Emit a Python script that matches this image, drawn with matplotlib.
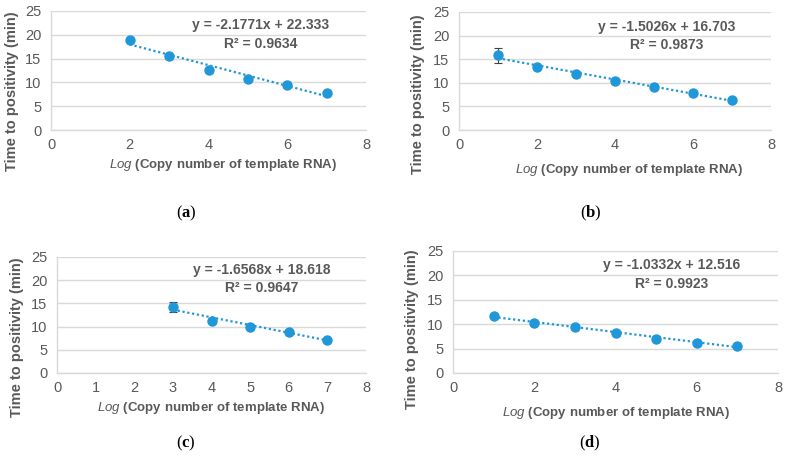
import matplotlib
matplotlib.use("Agg")
import matplotlib.pyplot as plt
import numpy as np

plt.rcParams['mathtext.fontset'] = 'custom'
plt.rcParams['mathtext.rm'] = 'Liberation Serif'
plt.rcParams['mathtext.bf'] = 'Liberation Serif:bold'
plt.rcParams['mathtext.it'] = 'Liberation Sans:italic'
plt.rcParams['font.family'] = ['Liberation Sans', 'DejaVu Sans']

# ---- data ----
x_a = [2, 3, 4, 5, 6, 7]
y_a = [19.0, 15.5, 12.7, 10.8, 9.5, 7.7]
e_a = [0.3, 0.2, 0.3, 0.2, 0.2, 0.2]
x_b = [1, 2, 3, 4, 5, 6, 7]
y_b = [15.8, 13.3, 11.9, 10.4, 9.2, 7.8, 6.3]
e_b = [1.5, 0.2, 0.2, 0.2, 0.2, 0.2, 0.2]
x_c = [3, 4, 5, 6, 7]
y_c = [14.2, 11.2, 10.0, 8.9, 7.1]
e_c = [1.1, 0.2, 0.2, 0.2, 0.2]
x_d = [1, 2, 3, 4, 5, 6, 7]
y_d = [11.6, 10.3, 9.5, 8.2, 7.0, 6.2, 5.5]
e_d = [0.2, 0.2, 0.2, 0.2, 0.2, 0.2, 0.2]

slopes = [-2.1771, -1.5026, -1.6568, -1.0332]
intercepts = [22.333, 16.703, 18.618, 12.516]
r2_values = [0.9634, 0.9873, 0.9647, 0.9923]
panel_labels = ['a', 'b', 'c', 'd']
x_ticks_sets = [[0, 2, 4, 6, 8], [0, 2, 4, 6, 8], [0, 1, 2, 3, 4, 5, 6, 7, 8], [0, 2, 4, 6, 8]]
y_ticks = [0, 5, 10, 15, 20, 25]
x_title = r'$\it{Log}$ (Copy number of template RNA)'
y_title = 'Time to positivity (min)'

xs = [x_a, x_b, x_c, x_d]
ys = [y_a, y_b, y_c, y_d]
es = [e_a, e_b, e_c, e_d]

W, H = 787, 463
# axes boxes in pixels: left, right, top, bottom
boxes = [(51, 366, 11, 130), (459, 771, 12, 130), (57, 366, 257, 373), (453, 778, 251, 373)]
eq_pos = [(5.33, 22.0, 18.0), (5.33, 21.8, 18.0), (5.31, 22.2, 18.3), (5.37, 22.1, 18.2)]
cap_pos = [(186, 213), (591, 213), (186, 443), (590, 443)]
xlab_pos = [(223, 165), (629, 170), (211, 408), (616, 413)]
ylab_pos = [(12, 91), (418, 94), (17, 337), (412, 329)]

blue = '#1F97D8'
gray = '#595959'
grid = '#D9D9D9'

fig = plt.figure(figsize=(W / 100, H / 100), dpi=100)
for i in range(4):
    l, r, t, b = boxes[i]
    ax = fig.add_axes([l / W, 1 - b / H, (r - l) / W, (b - t) / H])
    x = np.array(xs[i]); y = np.array(ys[i])
    ax.errorbar(x, y, yerr=es[i], fmt='o', color=blue, ms=6.5, ecolor='#404040',
                elinewidth=0.8, capsize=3, capthick=0.8, zorder=3)
    xl = np.array([x.min(), x.max()])
    ax.plot(xl, slopes[i] * xl + intercepts[i], linestyle=(0, (1, 1.2)), color=blue, lw=1.6, zorder=2)
    ax.set_xlim(0, 8)
    ax.set_ylim(0, 25)
    ax.set_xticks(x_ticks_sets[i])
    ax.set_yticks(y_ticks)
    ax.grid(axis='y', color=grid, lw=1)
    ax.set_axisbelow(True)
    for s in ['top', 'right']:
        ax.spines[s].set_visible(False)
    for s in ['left', 'bottom']:
        ax.spines[s].set_color(grid)
        ax.spines[s].set_linewidth(1)
    ax.tick_params(axis='y', length=0, labelsize=10.5, labelcolor=gray, pad=7)
    ax.tick_params(axis='x', length=0, labelsize=10.5, labelcolor=gray, pad=6)
    sgn = '-' if slopes[i] < 0 else ''
    ex, ey1, ey2 = eq_pos[i]
    ax.text(ex, ey1, 'y = %s%.4fx + %.3f' % (sgn, abs(slopes[i]), intercepts[i]), ha='center', va='center',
            fontsize=10, color=gray, fontweight='bold')
    ax.text(ex, ey2, 'R² = %.4f' % r2_values[i], ha='center', va='center',
            fontsize=10, color=gray, fontweight='bold')
    lx, ly = xlab_pos[i]
    fig.text(lx / W, 1 - ly / H, x_title, ha='center', va='center', fontsize=9.5, color=gray,
             fontweight='bold')
    yx, yy = ylab_pos[i]
    fig.text(yx / W, 1 - yy / H, y_title, ha='center', va='center', rotation=90, fontsize=10.5,
             color=gray, fontweight='bold')
    cx, cy = cap_pos[i]
    fig.text(cx / W, 1 - cy / H, r'($\mathbf{%s}$)' % panel_labels[i], ha='center', va='center',
             fontsize=12, family='Liberation Serif', color='black')

fig.savefig('out.png', dpi=100)
